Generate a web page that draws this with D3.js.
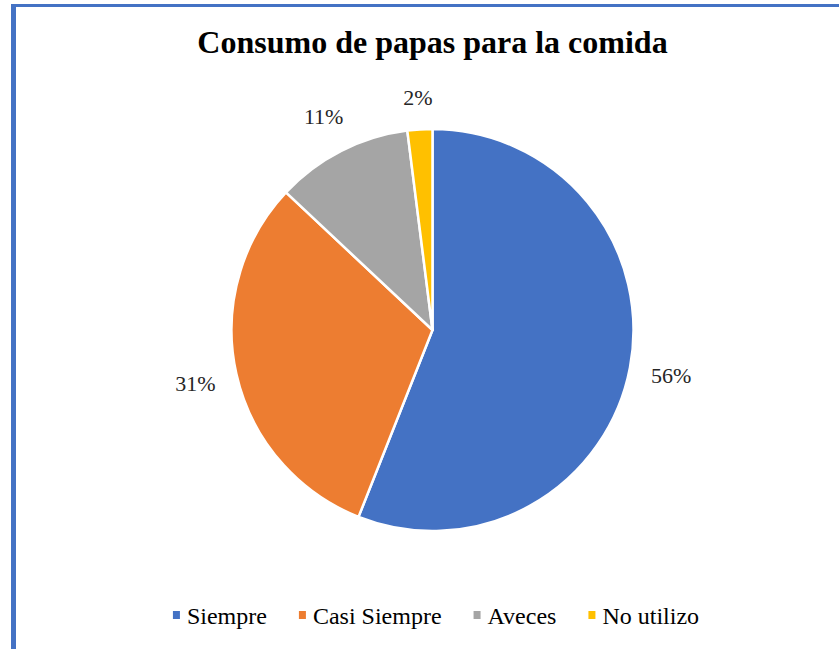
<!DOCTYPE html>
<html><head><meta charset="utf-8">
<script src="https://cdn.jsdelivr.net/npm/d3@7"></script>
<style>html,body{margin:0;padding:0;background:#fff;}svg{display:block;}</style>
</head><body>
<svg id="chart" width="839" height="649"></svg>
<script>
const title = "Consumo de papas para la comida";
const categories = ["Siempre", "Casi Siempre", "Aveces", "No utilizo"];
const values = [56, 31, 11, 2];
const colors = ["#4472C4", "#ED7D31", "#A5A5A5", "#FFC000"];

const W = 839, H = 649;
const svg = d3.select("#chart");
const font = "'Liberation Serif','Times New Roman',serif";

// border (top and left visible)
svg.append("rect").attr("x", 11).attr("y", 4).attr("width", W).attr("height", 3).attr("fill", "#4472C4");
svg.append("rect").attr("x", 11).attr("y", 4).attr("width", 5).attr("height", H).attr("fill", "#4472C4");

svg.append("text").attr("x", 432.5).attr("y", 53).attr("text-anchor", "middle")
  .attr("font-family", font).attr("font-weight", "bold").attr("font-size", 32)
  .attr("fill", "#000").text(title);

const cx = 432.5, cy = 330, r = 201;
const data = categories.map((c, i) => ({cat: c, v: values[i], color: colors[i]}));
const pie = d3.pie().value(d => d.v).sort(null);
const arcs = pie(data);
const arc = d3.arc().innerRadius(0).outerRadius(r);
const g = svg.append("g").attr("transform", `translate(${cx},${cy})`);
g.selectAll("path").data(arcs).join("path")
  .attr("d", arc).attr("fill", d => d.data.color)
  .attr("stroke", "#fff").attr("stroke-width", 2.5).attr("stroke-linejoin", "round");

const fs = 22;
g.selectAll("text.lbl").data(arcs).join("text").attr("class", "lbl")
  .attr("font-family", font).attr("font-size", fs).attr("fill", "#262626")
  .attr("text-anchor", "middle").attr("dominant-baseline", "central")
  .text(d => d.data.v + "%")
  .each(function(d) {
    const a = (d.startAngle + d.endAngle) / 2;
    const s = Math.sin(a), c = -Math.cos(a);
    const w = this.getComputedTextLength();
    const dist = r + 20 + Math.abs(s) * w / 2 + Math.abs(c) * fs / 2;
    d3.select(this).attr("x", s * dist).attr("y", c * dist);
  });

// legend
const legend = svg.append("g");
const items = legend.selectAll("g").data(data).join("g");
items.append("rect").attr("y", -5).attr("width", 7).attr("height", 8).attr("fill", d => d.color);
items.append("text").attr("x", 14).attr("y", 0).attr("dominant-baseline", "central")
  .attr("font-family", font).attr("font-size", 24).attr("fill", "#000").text(d => d.cat);
let x = 0;
const gap = 32;
items.each(function() {
  const bb = this.getBBox();
  d3.select(this).attr("transform", `translate(${x},0)`);
  x += bb.width + gap;
});
const total = x - gap;
legend.attr("transform", `translate(${436 - total / 2},${616})`);
</script>
</body></html>
